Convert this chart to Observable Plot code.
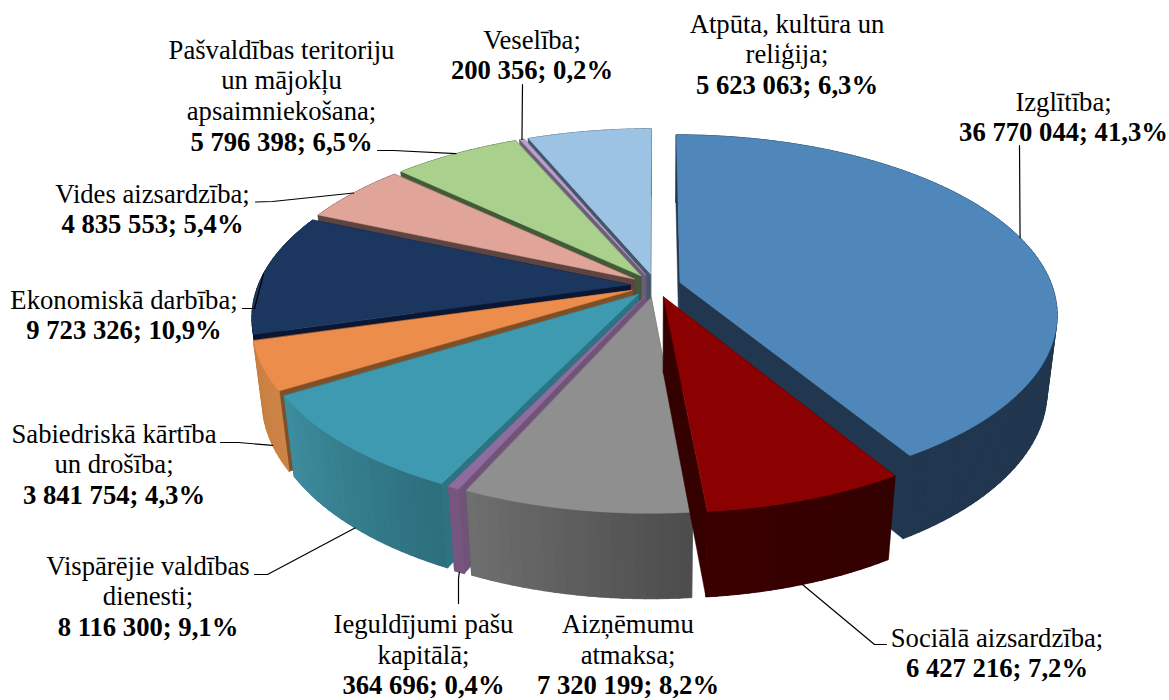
<!DOCTYPE html>
<html><head><meta charset="utf-8">
<style>html,body{margin:0;padding:0;background:#fff;overflow:hidden}svg{display:block}</style>
<script src="https://cdn.jsdelivr.net/npm/d3@7"></script>
<script src="https://cdn.jsdelivr.net/npm/@observablehq/plot@0.6"></script>
</head><body><div id="chart"></div>
<script>
// ---- data ----
const names = [
  ["Izglītība;"],
  ["Sociālā aizsardzība;"],
  ["Aizņēmumu", "atmaksa;"],
  ["Ieguldījumi pašu", "kapitālā;"],
  ["Vispārējie valdības", "dienesti;"],
  ["Sabiedriskā kārtība", "un drošība;"],
  ["Ekonomiskā darbība;"],
  ["Vides aizsardzība;"],
  ["Pašvaldības teritoriju", "un mājokļu", "apsaimniekošana;"],
  ["Veselība;"],
  ["Atpūta, kultūra un", "reliģija;"]
];
const values = [36770044, 6427216, 7320199, 364696, 8116300, 3841754, 9723326, 4835553, 5796398, 200356, 5623063];

// ---- styles ----
const topColors  = ["#4F87BA","#8B0000","#8F8F8F","#8F6C9F","#3E9AB1","#EC8D4B","#1C375F","#E0A499","#A9D08C","#B8A2C9","#9DC3E4"];
const cutColors  = ["#20374F","#350000","#555555","#71537A","#2E7382","#7F4F28","#0A1632","#5E4440","#435A37","#6D5C7A","#44566A"];
const wallStart  = ["#20374F","#330000","#4C4C4C","#76567E","#2C6E7C","#CE8446","#0A1632","#5E4440","#435A37","#6D5C7A","#44566A"];
const wallEnd    = ["#20374F","#3A0000","#6F6F6F","#76567E","#3E8D9F","#C87F42","#0A1632","#5E4440","#435A37","#6D5C7A","#44566A"];
const drawOrder  = [10,9,8,7,0,6,5,4,3,2,1];
const labelX     = [1063,996.5,627.5,423,147.5,113.5,123.5,152,281,531.5,786.5];
const labelY     = [110,646,632.5,632.5,574,442,308,202,58,48,32];
const leaderFrom = [[1019,145],[886,644],null,[458,603],[254,574],[220,442],[242,308],[255,201.5],[377,150],[522,84],null];
const leaderBend = [null,[874,644],null,[458,578],[267,574],[238,442],[254,308],[272,201],[393,150],null,null];
const lineGap = 30.7, fontSize = 26.67, fontFamily = "Liberation Serif";

// ---- 3D pie model ----
const cam = {cx:655, cy:285, A:372, B:174, k:0.173, q:0.025, C:77.5, explode:0.0685};
function project(X, Y, bottom) {
  const w = 1 + cam.k * Y + (bottom ? cam.q : 0);
  return [cam.cx + cam.A * X / w, cam.cy + (-cam.B * Y + (bottom ? cam.C : 0)) / w];
}
const total = d3.sum(values);
let acc = 0;
const slices = values.map((v, i) => {
  const a0 = acc / total * 2 * Math.PI; acc += v;
  const a1 = acc / total * 2 * Math.PI;
  return {i, a0, a1, m: (a0 + a1) / 2};
});
const rimPoint = (s, a, bottom) => project(
  Math.sin(a) + cam.explode * Math.sin(s.m),
  Math.cos(a) + cam.explode * Math.cos(s.m), bottom);
const apexPoint = (s, bottom) => project(cam.explode * Math.sin(s.m), cam.explode * Math.cos(s.m), bottom);

const polys = [];
let pid = 0;
const addPoly = (pts, color) => { pid++; pts.forEach(p => polys.push({id: pid, x: p[0], y: p[1], color})); };
const STEP = 1.5 * Math.PI / 180;
for (const idx of drawOrder) {
  const s = slices[idx];
  // cut faces
  addPoly([apexPoint(s,false), rimPoint(s,s.a0,false), rimPoint(s,s.a0,true), apexPoint(s,true)], cutColors[idx]);
  addPoly([apexPoint(s,false), rimPoint(s,s.a1,false), rimPoint(s,s.a1,true), apexPoint(s,true)], cutColors[idx]);
  // rim wall: one solid underlay, then shaded strips that overlap a little
  const n = Math.max(1, Math.ceil((s.a1 - s.a0) / STEP));
  const shade = d3.interpolateRgb(wallStart[idx], wallEnd[idx]);
  const at = j => s.a0 + (s.a1 - s.a0) * j / n;
  const upper = d3.range(n + 1).map(j => rimPoint(s, at(j), false));
  const lower = d3.range(n + 1).map(j => rimPoint(s, at(j), true)).reverse();
  addPoly([...upper, ...lower], shade(0.5));
  for (let j = 0; j < n; j++) {
    const b0 = at(j), b1 = Math.min(at(j + 1) + 0.004, s.a1);
    addPoly([rimPoint(s,b0,false), rimPoint(s,b1,false), rimPoint(s,b1,true), rimPoint(s,b0,true)], shade((j + .5) / n));
  }
  // top
  addPoly([apexPoint(s,false), ...upper], topColors[idx]);
}

// ---- labels ----
const numText = v => String(v).replace(/\B(?=(\d{3})+$)/g, " ");
const pctText = v => (v / total * 100).toFixed(1).replace(".", ",") + "%";
const normalRows = [], boldRows = [];
names.forEach((lines, i) => {
  lines.forEach((t, j) => normalRows.push({x: labelX[i], y: labelY[i] + j * lineGap, t}));
  boldRows.push({x: labelX[i], y: labelY[i] + lines.length * lineGap, t: `${numText(values[i])}; ${pctText(values[i])}`});
});
const leaders = [];
slices.forEach((s, i) => {
  if (!leaderFrom[i]) return;
  const end = rimPoint(s, s.m, Math.cos(s.m) < 0);
  [leaderFrom[i], leaderBend[i], end].filter(Boolean).forEach(p => leaders.push({i, x: p[0], y: p[1]}));
});

const textOpts = {x:"x", y:"y", text:"t", fontSize, fontFamily, textAnchor:"middle", lineAnchor:"bottom", fill:"#000"};
const chart = Plot.plot({
  width: 1169, height: 700, margin: 0,
  x: {domain:[0,1169], range:[0,1169], axis:null},
  y: {domain:[0,700], range:[0,700], axis:null},
  color: {type:"identity"},
  style: {background:"#fff"},
  marks: [
    Plot.line(polys, {x:"x", y:"y", z:"id", fill:"color", stroke:"color", strokeWidth:0.5, curve:"linear-closed"}),
    Plot.line(leaders, {x:"x", y:"y", z:"i", stroke:"#000", strokeWidth:1.2}),
    Plot.text(normalRows, textOpts),
    Plot.text(boldRows, {...textOpts, fontWeight:"bold"})
  ]
});
document.getElementById("chart").append(chart);
</script>
</body></html>
